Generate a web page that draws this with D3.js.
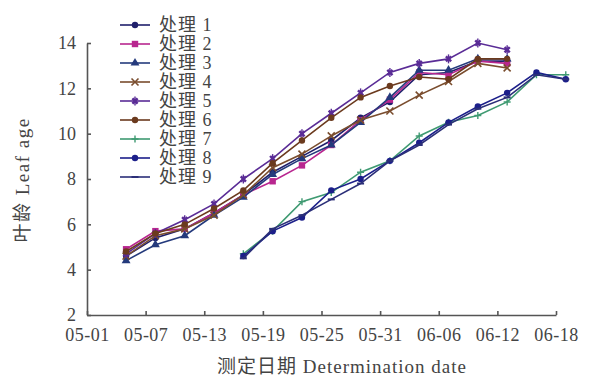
<!DOCTYPE html>
<html>
<head>
<meta charset="utf-8">
<script src="https://cdn.jsdelivr.net/npm/d3@7"></script>
<style>
  body { margin: 0; background: #fff; }
  svg { display: block; }
</style>
</head>
<body>
<div id="chart"></div>
<script>
// tick labels
const xTicks = ['05-01', '05-07', '05-13', '05-19', '05-25', '05-31', '06-06', '06-12', '06-18'];
const yTicks = [2, 4, 6, 8, 10, 12, 14];

// measurement dates
const earlyDates = ['05-05', '05-08', '05-11', '05-14', '05-17', '05-20', '05-23', '05-26', '05-29', '06-01', '06-04', '06-07', '06-10', '06-13'];
const lateDates = ['05-17', '05-20', '05-23', '05-26', '05-29', '06-01', '06-04', '06-07', '06-10', '06-13', '06-16', '06-19'];

// leaf age per treatment
const t1 = [4.6, 5.4, 5.8, 6.5, 7.3, 8.3, 9.0, 9.7, 10.7, 11.4, 12.6, 12.7, 13.2, 13.2];
const t2 = [4.9, 5.7, 5.8, 6.5, 7.3, 7.9, 8.6, 9.5, 10.6, 11.5, 12.7, 12.6, 13.2, 13.1];
const t3 = [4.4, 5.1, 5.5, 6.4, 7.2, 8.2, 8.9, 9.5, 10.5, 11.6, 12.8, 12.8, 13.3, 13.3];
const t4 = [4.6, 5.5, 5.8, 6.4, 7.3, 8.5, 9.1, 9.9, 10.6, 11.0, 11.7, 12.3, 13.1, 12.9];
const t5 = [4.7, 5.6, 6.2, 6.9, 8.0, 8.9, 10.0, 10.9, 11.8, 12.7, 13.1, 13.3, 14.0, 13.7];
const t6 = [4.8, 5.6, 6.0, 6.7, 7.5, 8.7, 9.7, 10.7, 11.6, 12.1, 12.5, 12.4, 13.3, 13.3];
const t7 = [4.7, 5.7, 7.0, 7.4, 8.3, 8.8, 9.9, 10.5, 10.8, 11.4, 12.6, 12.6];
const t8 = [4.6, 5.7, 6.3, 7.5, 8.0, 8.8, 9.6, 10.5, 11.2, 11.8, 12.7, 12.4];
const t9 = [4.5, 5.8, 6.4, 7.1, 7.8, 8.8, 9.5, 10.4, 11.1, 11.6, 12.6, 12.4];

const names = ['处理 1', '处理 2', '处理 3', '处理 4', '处理 5', '处理 6', '处理 7', '处理 8', '处理 9'];

const series = [
  { name: names[0], dates: earlyDates, values: t1, color: '#1f1f6b', marker: 'circle' },
  { name: names[1], dates: earlyDates, values: t2, color: '#b8268f', marker: 'square' },
  { name: names[2], dates: earlyDates, values: t3, color: '#243a7c', marker: 'triangle' },
  { name: names[3], dates: earlyDates, values: t4, color: '#7a4d2e', marker: 'cross' },
  { name: names[4], dates: earlyDates, values: t5, color: '#5a2c96', marker: 'star' },
  { name: names[5], dates: earlyDates, values: t6, color: '#6b3a1e', marker: 'circle' },
  { name: names[6], dates: lateDates, values: t7, color: '#3f9a72', marker: 'plus' },
  { name: names[7], dates: lateDates, values: t8, color: '#1c1f8a', marker: 'circle' },
  { name: names[8], dates: lateDates, values: t9, color: '#2b2f78', marker: 'dash' }
];

const W = 591, H = 379;
const margin = { top: 43, right: 35, bottom: 64, left: 87 };
const width = W - margin.left - margin.right;
const height = H - margin.top - margin.bottom;

const parse = d3.timeParse('%Y-%m-%d');
const toDate = s => parse('2010-' + s);

const svg = d3.select('#chart')
  .append('svg')
  .attr('width', W)
  .attr('height', H);

const g = svg.append('g')
  .attr('transform', `translate(${margin.left},${margin.top})`);

const x = d3.scaleTime()
  .domain([toDate(xTicks[0]), toDate(xTicks[xTicks.length - 1])])
  .range([0, width]);

const y = d3.scaleLinear()
  .domain([2, 14])
  .range([height, 0]);

const serif = '"Liberation Serif", "DejaVu Serif", "Noto Sans CJK SC", serif';
const axisColor = '#555';

// Axes
const xAxis = g.append('g')
  .attr('transform', `translate(0,${height})`)
  .call(d3.axisBottom(x)
    .tickValues(xTicks.map(toDate))
    .tickFormat(d3.timeFormat('%m-%d'))
    .tickSizeInner(-4)
    .tickSizeOuter(0)
    .tickPadding(11));

const yAxis = g.append('g')
  .call(d3.axisLeft(y)
    .tickValues(yTicks)
    .tickSizeInner(-4)
    .tickSizeOuter(0)
    .tickPadding(11));

[xAxis, yAxis].forEach(a => {
  a.select('.domain').attr('stroke', axisColor).attr('stroke-width', 1.6);
  a.selectAll('.tick line').attr('stroke', axisColor).attr('stroke-width', 1.6);
  a.selectAll('.tick text')
    .attr('fill', '#444')
    .style('font-family', serif)
    .style('font-size', '18px');
});
xAxis.selectAll('.tick text').attr('dy', '0.85em').style('letter-spacing', '0.5px');

// Axis titles
svg.append('text')
  .attr('x', 342)
  .attr('y', 373)
  .attr('text-anchor', 'middle')
  .attr('fill', '#444')
  .style('font-family', serif)
  .style('font-size', '19px')
  .style('letter-spacing', '1px')
  .text('测定日期 Determination date');

svg.append('text')
  .attr('transform', 'translate(29,180) rotate(-90)')
  .attr('text-anchor', 'middle')
  .attr('fill', '#444')
  .style('font-family', serif)
  .style('font-size', '19px')
  .style('letter-spacing', '1.5px')
  .text('叶龄 Leaf age');

// Marker drawing
function drawMarker(sel, type, color) {
  if (type === 'circle') {
    sel.append('circle').attr('r', 3.2).attr('fill', color);
  } else if (type === 'square') {
    sel.append('rect').attr('x', -3.2).attr('y', -3.2)
      .attr('width', 6.4).attr('height', 6.4).attr('fill', color);
  } else if (type === 'triangle') {
    sel.append('path').attr('d', d3.symbol(d3.symbolTriangle, 34)()).attr('fill', color);
  } else if (type === 'cross') {
    sel.append('path').attr('d', 'M-3.5,-3.5L3.5,3.5M-3.5,3.5L3.5,-3.5')
      .attr('stroke', color).attr('stroke-width', 1.6).attr('fill', 'none');
  } else if (type === 'star') {
    sel.append('path').attr('d', d3.symbol(d3.symbolCross, 30)())
      .attr('fill', color).attr('transform', 'rotate(45)');
    sel.append('path').attr('d', 'M0,-4.5L0,4.5')
      .attr('stroke', color).attr('stroke-width', 1.4);
  } else if (type === 'plus') {
    sel.append('path').attr('d', 'M-3.5,0L3.5,0M0,-3.5L0,3.5')
      .attr('stroke', color).attr('stroke-width', 1.4);
  } else if (type === 'dash') {
    sel.append('path').attr('d', 'M-3.5,0L3.5,0')
      .attr('stroke', color).attr('stroke-width', 2);
  }
}

// Lines
const line = d3.line()
  .x(d => x(toDate(d[0])))
  .y(d => y(d[1]));

series.forEach(s => {
  const pts = s.dates.map((d, i) => [d, s.values[i]]);
  g.append('path')
    .datum(pts)
    .attr('fill', 'none')
    .attr('stroke', s.color)
    .attr('stroke-width', 1.6)
    .attr('d', line);

  g.selectAll(null)
    .data(pts)
    .enter()
    .append('g')
    .attr('transform', d => `translate(${x(toDate(d[0]))},${y(d[1])})`)
    .each(function () { drawMarker(d3.select(this), s.marker, s.color); });
});

// Legend
const legend = svg.append('g').attr('transform', 'translate(120,25)');
series.forEach((s, i) => {
  const row = legend.append('g').attr('transform', `translate(0,${i * 19})`);
  row.append('line')
    .attr('x1', 0).attr('x2', 30)
    .attr('stroke', s.color).attr('stroke-width', 1.6);
  drawMarker(row.append('g').attr('transform', 'translate(15,0)'), s.marker, s.color);
  row.append('text')
    .attr('x', 39)
    .attr('y', 0)
    .attr('dy', '0.35em')
    .attr('fill', '#444')
    .style('font-family', serif)
    .style('font-size', '18px')
    .style('letter-spacing', '1px')
    .text(s.name);
});
</script>
</body>
</html>
